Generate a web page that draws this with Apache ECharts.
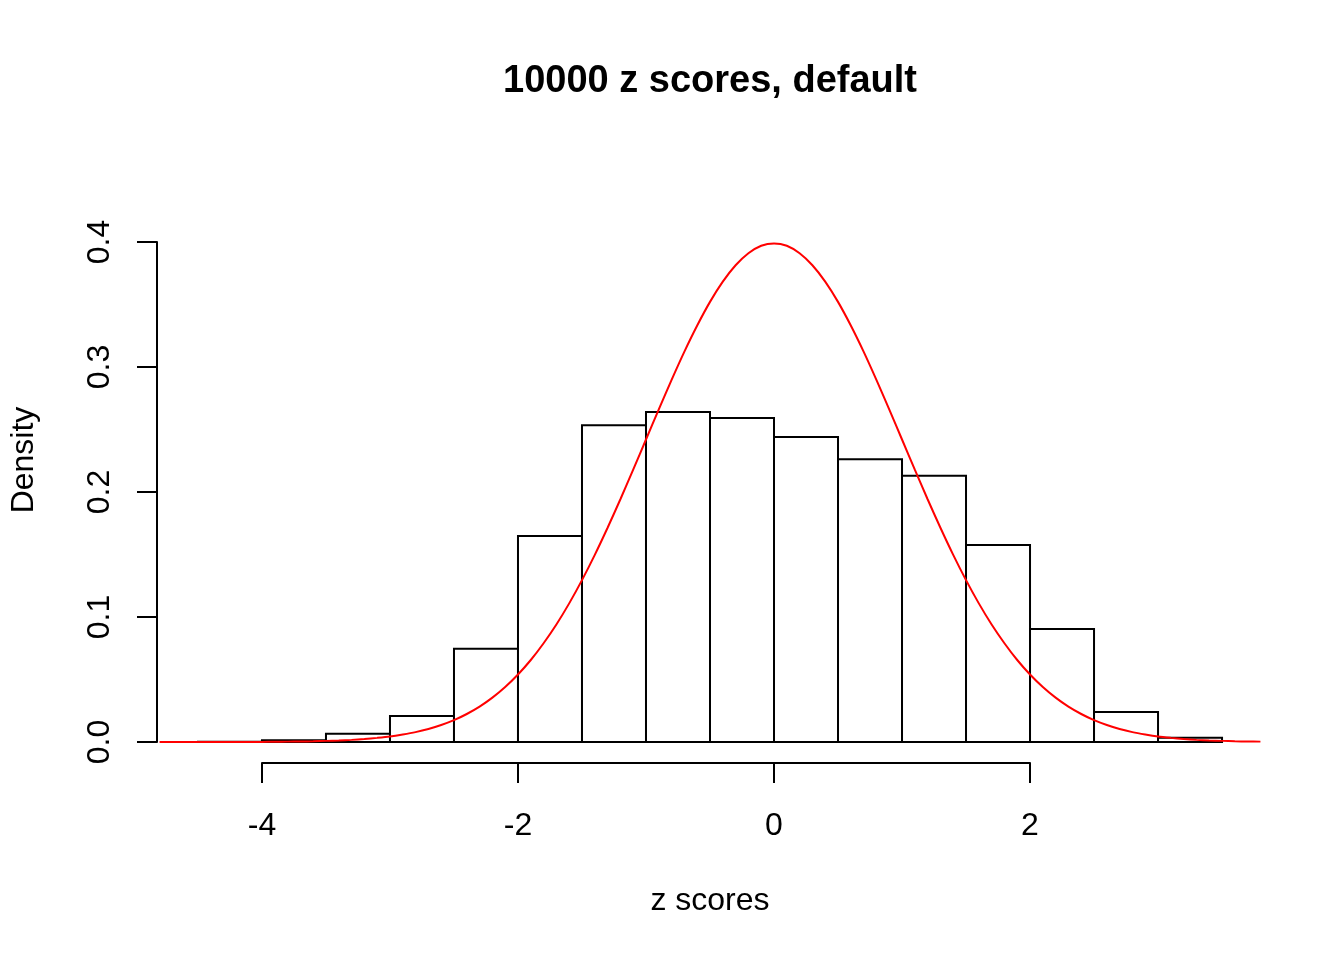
<!DOCTYPE html>
<html>
<head>
<meta charset="utf-8">
<script src="https://cdn.jsdelivr.net/npm/echarts@6/dist/echarts.min.js"></script>
<style>
  html, body { margin: 0; padding: 0; background: #fff; }
  #chart { width: 1344px; height: 960px; }
</style>
</head>
<body>
<div id="chart"></div>
<script>
// Histogram bin edges (width 0.5) and the density of each bin
const binBreaks = [-4.5, -4, -3.5, -3, -2.5, -2, -1.5, -1, -0.5, 0, 0.5, 1, 1.5, 2, 2.5, 3, 3.5];
const binDensity = [0.0002, 0.0014, 0.0066, 0.0208, 0.0746, 0.1648, 0.2534, 0.264, 0.2592,
                    0.244, 0.2262, 0.213, 0.1576, 0.0904, 0.024, 0.0034];

// Standard normal reference curve, sampled every 0.1
const curveX = [
  -4.8, -4.7, -4.6, -4.5, -4.4, -4.3, -4.2, -4.1, -4.0, -3.9, -3.8, -3.7, -3.6, -3.5, -3.4, -3.3,
  -3.2, -3.1, -3.0, -2.9, -2.8, -2.7, -2.6, -2.5, -2.4, -2.3, -2.2, -2.1, -2.0, -1.9, -1.8, -1.7,
  -1.6, -1.5, -1.4, -1.3, -1.2, -1.1, -1.0, -0.9, -0.8, -0.7, -0.6, -0.5, -0.4, -0.3, -0.2, -0.1,
  0.0, 0.1, 0.2, 0.3, 0.4, 0.5, 0.6, 0.7, 0.8, 0.9, 1.0, 1.1, 1.2, 1.3, 1.4, 1.5, 1.6, 1.7,
  1.8, 1.9, 2.0, 2.1, 2.2, 2.3, 2.4, 2.5, 2.6, 2.7, 2.8, 2.9, 3.0, 3.1, 3.2, 3.3, 3.4, 3.5,
  3.6, 3.7, 3.8
];
const curveY = [
  0.0000, 0.0000, 0.0000, 0.0000, 0.0000, 0.0000, 0.0001, 0.0001, 0.0001, 0.0002, 0.0003, 0.0004,
  0.0006, 0.0009, 0.0012, 0.0017, 0.0024, 0.0033, 0.0044, 0.0060, 0.0079, 0.0104, 0.0136, 0.0175,
  0.0224, 0.0283, 0.0355, 0.0440, 0.0540, 0.0656, 0.0790, 0.0940, 0.1109, 0.1295, 0.1497, 0.1714,
  0.1942, 0.2179, 0.2420, 0.2661, 0.2897, 0.3123, 0.3332, 0.3521, 0.3683, 0.3814, 0.3910, 0.3970,
  0.3989, 0.3970, 0.3910, 0.3814, 0.3683, 0.3521, 0.3332, 0.3123, 0.2897, 0.2661, 0.2420, 0.2179,
  0.1942, 0.1714, 0.1497, 0.1295, 0.1109, 0.0940, 0.0790, 0.0656, 0.0540, 0.0440, 0.0355, 0.0283,
  0.0224, 0.0175, 0.0136, 0.0104, 0.0079, 0.0060, 0.0044, 0.0033, 0.0024, 0.0017, 0.0012, 0.0009,
  0.0006, 0.0004, 0.0003
];

// Axis tick values
const xTicks = [-4, -2, 0, 2];
const yTicks = [0, 0.1, 0.2, 0.3, 0.4];

const titleText = '10000 z scores, default';
const xLabel = 'z scores';
const yLabel = 'Density';

const FONT = '"Liberation Sans", Arial, Helvetica, sans-serif';

const binData = binDensity.map((d, i) => [binBreaks[i], binBreaks[i + 1], d]);
const curveData = curveX.map((x, i) => [x, curveY[i]]);

const chart = echarts.init(document.getElementById('chart'), null, { renderer: 'canvas' });

chart.setOption({
  backgroundColor: '#ffffff',
  animation: false,
  grid: [
    // plotting region
    { left: 157, top: 196, width: 1106, height: 567 },
    // detached x axis
    { left: 262, top: 663, width: 768, height: 100 },
    // detached y axis
    { left: 157, top: 242, width: 10, height: 500 }
  ],
  xAxis: [
    { gridIndex: 0, type: 'value', min: -4.82, max: 3.82, show: false },
    {
      gridIndex: 1, type: 'value', min: xTicks[0], max: xTicks[xTicks.length - 1], interval: 2,
      position: 'bottom',
      axisLine: { show: true, lineStyle: { color: '#000', width: 2 } },
      axisTick: { show: true, inside: false, length: 20, lineStyle: { color: '#000', width: 2 } },
      axisLabel: { show: true, margin: 47, color: '#000', fontSize: 32, fontFamily: FONT },
      splitLine: { show: false }
    },
    { gridIndex: 2, type: 'value', min: 0, max: 1, show: false }
  ],
  yAxis: [
    { gridIndex: 0, type: 'value', min: -0.0168, max: 0.4368, show: false },
    { gridIndex: 1, type: 'value', min: 0, max: 1, show: false },
    {
      gridIndex: 2, type: 'value', min: yTicks[0], max: yTicks[yTicks.length - 1], interval: 0.1,
      position: 'left',
      axisLine: { show: true, lineStyle: { color: '#000', width: 2 } },
      axisTick: { show: true, inside: false, length: 20, lineStyle: { color: '#000', width: 2 } },
      axisLabel: {
        show: true, margin: 41, rotate: 90, color: '#000', fontSize: 32, fontFamily: FONT,
        formatter: v => v.toFixed(1)
      },
      splitLine: { show: false }
    }
  ],
  graphic: [
    {
      type: 'text', x: 710, y: 82,
      style: { text: titleText, fill: '#000', font: 'bold 38px ' + FONT, textAlign: 'center', textVerticalAlign: 'middle' }
    },
    {
      type: 'text', x: 710, y: 901,
      style: { text: xLabel, fill: '#000', font: '32px ' + FONT, textAlign: 'center', textVerticalAlign: 'middle' }
    },
    {
      type: 'text', x: 24, y: 460, rotation: Math.PI / 2,
      style: { text: yLabel, fill: '#000', font: '32px ' + FONT, textAlign: 'center', textVerticalAlign: 'middle' }
    }
  ],
  series: [
    {
      type: 'custom',
      xAxisIndex: 0, yAxisIndex: 0,
      data: binData,
      clip: false,
      renderItem: function (params, api) {
        const p0 = api.coord([api.value(0), api.value(2)]);
        const p1 = api.coord([api.value(1), 0]);
        return {
          type: 'rect',
          shape: { x: p0[0], y: p0[1], width: p1[0] - p0[0], height: p1[1] - p0[1] },
          style: { fill: '#fff', stroke: '#000', lineWidth: 2 }
        };
      },
      z: 2
    },
    {
      type: 'line',
      xAxisIndex: 0, yAxisIndex: 0,
      data: curveData,
      showSymbol: false,
      smooth: 0.3,
      lineStyle: { color: '#ff0000', width: 2 },
      z: 3
    }
  ]
});
</script>
</body>
</html>
